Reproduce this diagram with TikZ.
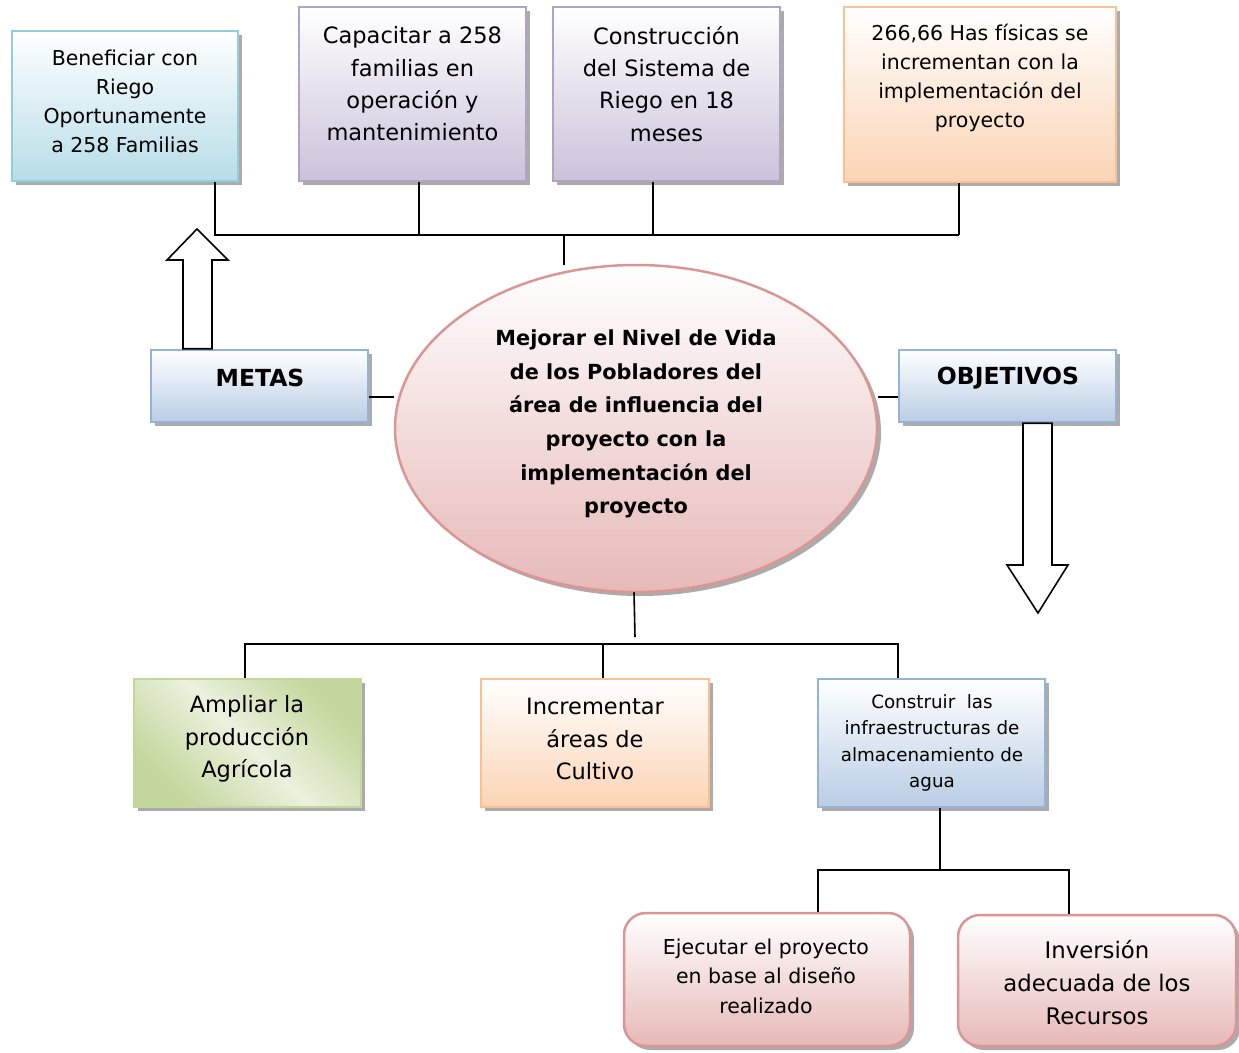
\documentclass[tikz,border=0pt]{standalone}
\usepackage{fontspec}
\setmainfont{DejaVu Sans}
\usetikzlibrary{shadows,shapes.geometric,calc}
\definecolor{cyanB}{HTML}{B7DDE8}
\definecolor{cyanL}{HTML}{93CDDD}
\definecolor{purB}{HTML}{CCC1DA}
\definecolor{purL}{HTML}{B3A2C7}
\definecolor{orgB}{HTML}{FBD4B4}
\definecolor{orgL}{HTML}{FAC090}
\definecolor{bluB}{HTML}{B9CDE5}
\definecolor{bluL}{HTML}{95B3D7}
\definecolor{pinkB}{HTML}{E6B9B8}
\definecolor{pinkL}{HTML}{D99694}
\definecolor{grnD}{HTML}{C3D69B}
\definecolor{grnL}{HTML}{EBF1DE}
\pgfdeclareverticalshading{grnband}{100bp}{color(0bp)=(grnD); color(25bp)=(grnD); color(50bp)=(grnL); color(75bp)=(grnD); color(100bp)=(grnD)}
\tikzset{
  sh/.style={drop shadow={shadow xshift=4pt, shadow yshift=-4pt, fill=black, opacity=0.33}},
  boxbase/.style={rectangle, inner sep=0pt, line width=2.5pt, sh},
  cyanbox/.style={boxbase, draw=cyanL, top color=white, bottom color=cyanB},
  purbox/.style={boxbase, draw=purL, top color=white, bottom color=purB},
  orgbox/.style={boxbase, draw=orgL, top color=white, bottom color=orgB},
  blubox/.style={boxbase, draw=bluL, top color=white, bottom color=bluB},
  grnbox/.style={boxbase, draw=grnD, shading=grnband, shading angle=-45},
  pinkbox/.style={boxbase, rounded corners=22pt, draw=pinkL, top color=white, bottom color=pinkB},
  lbl/.style={align=center, inner sep=0pt},
  conn/.style={line width=1.6pt, black},
  blockarrow/.style={line width=1.6pt, draw=black, fill=white, line join=miter}
}
\begin{document}
\begin{tikzpicture}[x=1pt,y=-1pt]
\useasboundingbox (0,0) rectangle (1239,1052);

% top boxes
\node[cyanbox, minimum width=226pt, minimum height=150pt] (b1) at (125,106) {};
\node[purbox, minimum width=227pt, minimum height=174pt] (b2) at (412.5,94) {};
\node[purbox, minimum width=227pt, minimum height=174pt] (b3) at (666.5,94) {};
\node[orgbox, minimum width=272pt, minimum height=175pt] (b4) at (980,94.5) {};
\node[lbl, font=\fontsize{20.5}{29}\selectfont] (t1) at (125,101) {Beneficiar con\\Riego\\Oportunamente\\a 258 Familias};
\node[lbl, font=\fontsize{22.5}{32.3}\selectfont] (t2) at (412.5,84) {Capacitar a 258\\familias en\\operación y\\mantenimiento};
\node[lbl, font=\fontsize{22.5}{32.3}\selectfont] (t3) at (666.5,84) {Construcción\\del Sistema de\\Riego en 18\\meses};
\node[lbl, font=\fontsize{20.5}{29}\selectfont] (t4) at (980,78) {266,66 Has físicas se\\incrementan con la\\implementación del\\proyecto};

% ellipse
\node[ellipse, inner sep=0pt, minimum width=482pt, minimum height=327pt, line width=2.5pt, draw=pinkL, top color=white, bottom color=pinkB, sh] (ell) at (636,428.5) {};
\node[lbl, font=\bfseries\fontsize{20.8}{33.6}\selectfont] (te) at (636,424) {Mejorar el Nivel de Vida\\de los Pobladores del\\área de influencia del\\proyecto con la\\implementación del\\proyecto};

% METAS / OBJETIVOS
\node[blubox, minimum width=217pt, minimum height=72pt] (metas) at (259.5,386) {};
\node[blubox, minimum width=217pt, minimum height=72pt] (obj) at (1007.5,386) {};
\node[lbl, font=\bfseries\fontsize{23.5}{28}\selectfont] (tm) at (260,378) {METAS};
\node[lbl, font=\bfseries\fontsize{23.5}{28}\selectfont] (to) at (1008,378) {OBJETIVOS};

% bottom boxes
\node[grnbox, minimum width=227pt, minimum height=128pt] (amp) at (247.5,743) {};
\node[orgbox, minimum width=228pt, minimum height=128pt] (inc) at (595,743) {};
\node[blubox, minimum width=227pt, minimum height=128pt] (con) at (931.5,743) {};
\node[lbl, font=\fontsize{22.5}{32.5}\selectfont] (ta) at (247,739) {Ampliar la\\producción\\Agrícola};
\node[lbl, font=\fontsize{22.5}{32.5}\selectfont] (ti) at (595,739) {Incrementar\\áreas de\\Cultivo};
\node[lbl, font=\fontsize{18.3}{26.3}\selectfont] (tc) at (932,743) {Construir\ \ las\\infraestructuras de\\almacenamiento de\\agua};

\node[pinkbox, minimum width=286pt, minimum height=133pt] (eje) at (767,979.5) {};
\node[pinkbox, minimum width=278pt, minimum height=131pt] (inv) at (1097,980.5) {};
\node[lbl, font=\fontsize{20.5}{29.5}\selectfont] (tj) at (766,976) {Ejecutar el proyecto\\en base al diseño\\realizado};
\node[lbl, font=\fontsize{22.8}{33}\selectfont] (tv) at (1097,983) {Inversión\\adecuada de los\\Recursos};

% top connectors
\coordinate (busT) at (564,235);
\coordinate (busTend) at (564,265);
\draw[conn] (b1.south -| 215,0) -- (215,235) -- (959,235);
\draw[conn] (b2.south -| 419,0) -- (419,235);
\draw[conn] (b3.south -| 653,0) -- (653,235);
\draw[conn] (b4.south -| 959,0) -- (959,235);
\draw[conn] (busT) -- (busTend);

% side connectors
\draw[conn] (metas.east |- 0,397) -- (ell.west |- 0,397);
\draw[conn] (ell.east |- 0,397) -- (obj.west |- 0,397);

% block arrows
\draw[blockarrow] (metas.north -| 183,0) -- (183,260) -- (167,260) -- (197,229) -- (228,260) -- (212,260) -- (metas.north -| 212,0) -- cycle;
\draw[blockarrow] (obj.south -| 1023,0) -- (1023,565) -- (1007,565) -- (1038,613) -- (1068,565) -- (1052,565) -- (obj.south -| 1052,0) -- cycle;

% bottom connectors
\coordinate (ellEnd) at (635,637);
\draw[conn] ($(ell.south)+(-2,-1)$) -- (ellEnd);
\draw[conn] (amp.north -| 245,0) -- (245,644) -- (898,644) -- (con.north -| 898,0);
\draw[conn] (inc.north -| 603,0) -- (603,644);

\draw[conn] (con.south -| 940,0) -- (940,870);
\draw[conn] (eje.north -| 818,0) -- (818,870) -- (1069,870) -- (inv.north -| 1069,0);
\end{tikzpicture}
\end{document}
